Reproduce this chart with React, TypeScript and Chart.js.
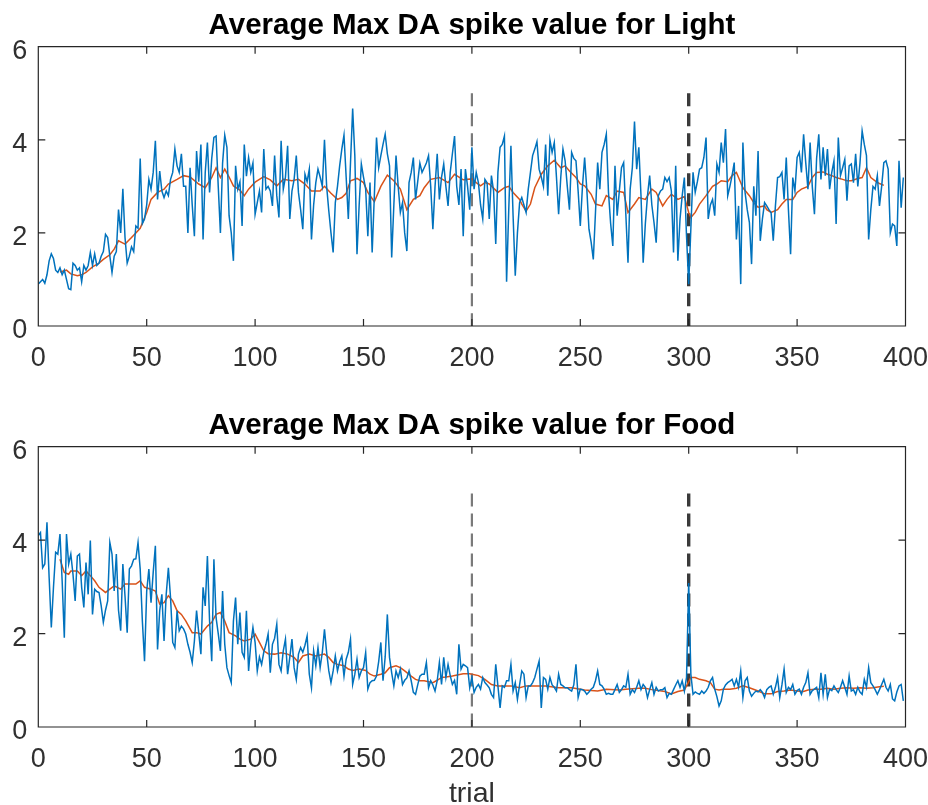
import React, { useEffect, useRef } from "react";
import { Chart, registerables } from "chart.js";

Chart.register(...registerables);

// ---------- data ----------
const X_TICKS = [0, 50, 100, 150, 200, 250, 300, 350, 400];
const Y_TICKS = [0, 2, 4, 6];
const MARKERS = [200, 300];

// blue: per-trial value, trial index 0..399
const lightSpikes = [
  0.9, 0.95, 1.0, 0.92, 1.1, 1.4, 1.55, 1.45, 1.2, 1.15,
  1.25, 1.1, 1.2, 1.0, 0.8, 0.78, 1.35, 1.3, 1.2, 1.25,
  0.95, 1.3, 1.2, 1.3, 1.58, 1.3, 1.55, 1.3, 1.35, 1.5,
  1.6, 1.97, 1.9, 1.5, 1.15, 1.5, 1.6, 2.5, 2.0, 2.95,
  1.9, 1.35, 1.5, 1.7, 1.6, 2.15, 2.1, 3.6, 2.2, 2.3,
  2.6, 3.15, 2.94, 3.3, 3.98, 2.72, 3.33, 2.9, 2.76, 2.9,
  2.8, 3.15, 3.3, 3.8, 3.44, 3.3, 3.7, 3.0, 3.0, 2.0,
  3.4, 2.6, 1.93, 3.76, 3.1, 3.9, 1.86, 3.3, 3.94, 2.87,
  3.6, 4.05, 4.08, 3.0, 2.0, 3.5, 4.1, 3.84, 2.37, 2.0,
  1.4, 3.44, 2.94, 3.1, 2.15, 3.9, 3.22, 3.62, 3.3, 3.5,
  2.4, 2.65, 2.9, 2.44, 3.8, 2.94, 3.0, 2.9, 2.58, 3.66,
  2.8, 2.33, 3.98, 2.94, 3.2, 3.87, 2.3, 2.9, 3.15, 3.66,
  2.87, 2.5, 2.08, 3.26, 3.1, 3.37, 1.86, 2.6, 3.08, 3.37,
  3.2, 3.0, 4.0, 3.0, 2.47, 2.0, 1.58, 2.65, 3.0, 3.44,
  3.8, 4.1, 3.2, 2.3, 3.5, 4.67, 3.66, 1.54, 2.6, 3.48,
  3.2, 2.94, 1.93, 3.08, 1.58, 2.8, 4.05, 3.4, 3.66, 3.9,
  4.12, 3.7, 3.44, 1.47, 2.6, 3.66, 3.0, 2.44, 2.65, 2.0,
  1.61, 3.08, 3.3, 3.62, 2.72, 3.1, 3.5, 3.3, 3.4, 3.5,
  3.66, 3.0, 2.08, 3.0, 3.7, 2.72, 3.2, 3.48, 3.0, 2.58,
  3.3, 3.7, 4.08, 3.0, 2.6, 3.37, 1.93, 3.37, 3.0, 2.5,
  3.84, 2.94, 3.3, 3.08, 2.6, 2.3, 3.15, 3.08, 2.3, 3.23,
  2.9, 1.76, 3.3, 3.84, 3.9, 4.08, 0.95, 2.5, 3.87, 2.37,
  1.08, 2.0, 2.65, 2.76, 2.6, 2.44, 2.94, 3.3, 3.66, 3.8,
  3.96, 3.37, 3.2, 3.0, 3.9, 2.8, 4.0, 3.73, 3.94, 3.2,
  2.4, 3.2, 3.8, 3.55, 3.0, 2.5, 3.73, 3.6, 3.55, 2.9,
  2.15, 3.0, 3.62, 2.94, 2.08, 1.8, 1.43, 2.44, 3.51, 2.94,
  3.73, 3.9, 4.12, 2.87, 2.2, 1.72, 3.44, 2.37, 2.9, 3.4,
  3.51, 2.4, 1.36, 2.94, 3.4, 4.39, 3.37, 3.84, 2.8, 1.36,
  2.2, 2.8, 3.23, 2.6, 2.22, 1.79, 2.8, 2.9, 2.94, 3.19,
  3.1, 3.19, 2.9, 1.58, 3.44, 1.4, 2.3, 2.8, 3.19, 1.93,
  0.9, 2.1, 3.3, 2.87, 3.1, 3.37, 3.4, 3.62, 4.05, 2.3,
  2.6, 2.72, 2.37, 3.48, 3.3, 3.94, 3.51, 4.23, 2.8, 3.0,
  3.23, 3.51, 1.86, 2.58, 0.9, 3.94, 2.87, 2.5, 2.22, 1.33,
  3.0, 2.37, 3.76, 1.83, 2.3, 2.65, 2.58, 2.5, 2.44, 1.83,
  2.58, 3.19, 3.21, 3.3, 2.72, 3.62, 2.5, 1.54, 3.19, 2.9,
  3.62, 3.73, 3.3, 4.12, 3.5, 2.94, 3.94, 3.0, 2.4, 3.6,
  4.12, 3.15, 3.84, 3.23, 3.8, 2.94, 3.3, 3.55, 2.19, 4.05,
  3.23, 3.4, 3.58, 2.69, 3.44, 3.48, 3.08, 3.7, 3.0, 3.5,
  4.19, 3.9, 3.66, 1.86, 2.5, 3.0, 2.94, 3.23, 2.58, 3.0,
  3.51, 3.55, 3.37, 2.0, 2.19, 2.15, 1.72, 3.55, 2.54, 3.19,
];

// orange: running average, sampled at these trials
const lightAvgX = [
  10, 13, 15, 18, 20, 22, 25, 28, 30, 33,
  35, 37, 40, 43, 45, 47, 50, 52, 55, 58,
  60, 64, 67, 70, 74, 77, 80, 82, 84, 86,
  88, 90, 93, 95, 97, 100, 104, 107, 110, 113,
  117, 120, 123, 126, 130, 132, 135, 138, 140, 142,
  144, 147, 150, 152, 155, 158, 161, 164, 167, 170,
  173, 176, 178, 181, 185, 189, 192, 196, 200, 202,
  204, 206, 208, 212, 215, 217, 219, 222, 223, 225,
  227, 229, 232, 235, 238, 241, 243, 245, 248, 250,
  252, 255, 257, 260, 262, 265, 267, 270, 272, 275,
  277, 280, 283, 285, 288, 290, 292, 295, 298, 300,
  301, 303, 305, 308, 311, 313, 315, 318, 320, 322,
  323, 325, 328, 330, 332, 335, 336, 338, 341, 343,
  345, 348, 350, 352, 355, 357, 359, 362, 364, 366,
  368, 371, 373, 375, 378, 380, 382, 384, 386, 388,
  390,
];
const lightAvgY = [
  1.16, 1.2, 1.12, 1.08, 1.1, 1.15, 1.27, 1.35, 1.43, 1.53,
  1.65, 1.83, 1.76, 1.9, 2.0, 2.1, 2.44, 2.72, 2.87, 2.94,
  3.05, 3.15, 3.23, 3.2, 3.05, 2.97, 3.19, 3.4, 3.19, 3.37,
  3.2, 3.01, 2.92, 2.8, 2.94, 3.09, 3.21, 3.14, 3.01, 3.15,
  3.12, 3.15, 3.05, 2.9, 2.9, 3.0, 2.85, 2.72, 2.76, 2.85,
  3.12, 3.17, 3.08, 2.87, 2.67, 3.0, 3.24, 3.12, 2.94, 2.5,
  2.72, 2.8, 2.97, 3.15, 3.19, 3.08, 3.26, 3.14, 3.16, 3.08,
  3.01, 3.08, 3.05, 2.87, 2.97, 3.0, 2.87, 2.72, 2.62, 2.47,
  2.62, 2.97, 3.26, 3.44, 3.56, 3.4, 3.44, 3.33, 3.19, 3.05,
  3.01, 2.83, 2.62, 2.58, 2.8, 2.72, 2.9, 2.87, 2.44, 2.62,
  2.76, 2.72, 2.94, 2.87, 2.58, 2.72, 2.83, 2.72, 2.78, 2.44,
  2.33, 2.44, 2.62, 2.8, 3.0, 3.05, 3.12, 3.1, 3.23, 3.3,
  3.19, 2.97, 2.8, 2.65, 2.55, 2.58, 2.5, 2.44, 2.5, 2.62,
  2.72, 2.72, 2.87, 2.94, 3.0, 3.19, 3.3, 3.31, 3.26, 3.23,
  3.19, 3.15, 3.12, 3.12, 3.17, 3.19, 3.4, 3.19, 3.12, 3.06,
  3.02,
];

const foodSpikes = [
  4.1, 4.16, 3.41, 3.49, 4.38, 3.2, 2.13, 2.99, 3.74, 3.7,
  4.13, 3.13, 1.91, 4.13, 3.49, 3.7, 3.27, 2.7, 3.66, 3.7,
  2.99, 2.56, 3.52, 2.84, 3.99, 2.41, 2.95, 2.9, 2.88, 2.6,
  2.24, 2.5, 2.7, 3.95, 3.7, 2.91, 3.7, 2.5, 2.06, 3.49,
  2.8, 2.02, 3.38, 3.45, 3.59, 3.6, 3.95, 3.38, 2.27, 1.41,
  2.91, 3.38, 2.66, 3.31, 3.88, 1.66, 2.49, 2.84, 1.84, 2.84,
  3.41, 2.77, 1.81, 1.7, 2.49, 2.06, 2.16, 2.1, 1.99, 1.77,
  1.6, 1.38, 1.84, 2.49, 2.02, 1.56, 2.99, 2.59, 3.66, 2.27,
  1.41, 3.59, 2.34, 2.0, 1.63, 2.91, 1.77, 1.27, 1.1, 0.95,
  2.27, 2.77, 1.77, 2.45, 1.6, 1.49, 2.49, 1.2, 1.77, 2.13,
  1.81, 1.2, 1.5, 1.34, 1.6, 1.77, 1.99, 1.16, 1.77, 1.9,
  2.2, 1.34, 1.2, 1.63, 1.88, 1.13, 1.49, 1.88, 1.27, 1.02,
  1.56, 1.7, 1.6, 1.75, 1.95, 1.13, 0.84, 1.63, 1.31, 1.7,
  1.27, 1.6, 2.09, 1.6, 1.2, 0.95, 1.2, 1.52, 1.2, 1.4,
  1.52, 1.09, 1.45, 1.6, 1.88, 0.91, 1.13, 1.45, 1.06, 1.2,
  1.27, 1.59, 0.81, 0.95, 0.99, 1.0, 1.09, 1.4, 1.81, 0.99,
  1.5, 2.41, 1.49, 1.16, 0.88, 1.2, 1.06, 1.24, 0.91, 1.0,
  1.05, 1.2, 0.99, 0.74, 0.7, 0.9, 1.09, 1.13, 1.13, 1.38,
  0.84, 0.99, 0.9, 0.77, 0.99, 1.38, 0.91, 1.49, 1.06, 1.34,
  1.1, 0.91, 1.0, 0.7, 1.77, 1.24, 1.34, 1.31, 1.27, 0.84,
  1.06, 0.74, 0.85, 0.91, 0.81, 1.06, 0.95, 0.9, 0.84, 0.7,
  0.63, 1.34, 0.88, 0.41, 0.88, 0.85, 0.99, 0.99, 1.34, 0.77,
  0.95, 0.59, 0.9, 1.2, 1.13, 0.63, 0.88, 0.88, 0.95, 1.06,
  1.24, 1.41, 0.41, 1.06, 1.02, 0.81, 1.06, 0.9, 0.85, 0.77,
  1.13, 0.91, 0.88, 0.84, 0.84, 0.8, 0.77, 0.9, 1.34, 0.63,
  0.81, 0.8, 0.77, 0.7, 0.75, 0.81, 0.85, 0.99, 1.2, 0.91,
  0.88, 0.81, 0.7, 0.72, 0.7, 0.7, 0.8, 0.91, 0.74, 0.8,
  0.88, 0.85, 1.13, 0.7, 0.8, 0.74, 0.85, 0.99, 0.8, 0.91,
  0.85, 0.63, 0.8, 0.95, 0.7, 0.85, 0.77, 0.8, 0.8, 0.84,
  0.63, 0.72, 0.7, 0.8, 0.9, 0.99, 0.85, 0.99, 0.77, 1.06,
  3.08, 1.13, 0.7, 0.75, 0.72, 0.7, 0.77, 0.72, 0.77, 0.85,
  0.99, 1.06, 0.81, 0.65, 0.45, 0.56, 0.81, 0.9, 0.95, 0.98,
  1.02, 0.88, 1.02, 0.85, 1.2, 0.63, 0.99, 1.06, 0.77, 0.66,
  0.72, 0.77, 0.75, 0.8, 0.74, 0.63, 0.8, 0.85, 0.88, 0.7,
  0.85, 1.06, 0.63, 0.9, 1.24, 0.74, 0.85, 0.8, 0.91, 0.7,
  0.78, 0.81, 0.7, 0.85, 0.95, 1.16, 0.7, 0.78, 0.81, 0.85,
  0.63, 1.16, 0.7, 1.13, 0.63, 0.81, 0.78, 0.88, 0.8, 0.74,
  0.85, 0.99, 0.85, 0.7, 1.09, 0.77, 0.8, 0.7, 0.85, 0.75,
  0.7, 1.02, 0.85, 1.27, 0.95, 0.88, 0.8, 0.7, 0.8, 0.91,
  1.02, 0.85, 0.77, 0.91, 0.6, 0.56, 0.75, 0.88, 0.91, 0.56,
];

const foodAvgX = [
  10, 12, 14, 15, 18, 20, 22, 24, 26, 28,
  31, 33, 35, 38, 40, 42, 45, 47, 49, 52,
  54, 56, 58, 60, 62, 64, 66, 68, 71, 73,
  75, 78, 80, 82, 84, 86, 88, 91, 93, 95,
  98, 100, 102, 104, 106, 109, 112, 115, 118, 120,
  122, 125, 128, 132, 134, 136, 138, 141, 143, 145,
  148, 151, 153, 155, 158, 160, 162, 165, 167, 169,
  172, 174, 176, 178, 182, 184, 186, 188, 191, 196,
  199, 203, 206, 209, 212, 218, 222, 225, 228, 234,
  240, 246, 252, 258, 262, 268, 271, 277, 280, 283,
  289, 292, 295, 298, 299, 301, 303, 305, 308, 310,
  312, 314, 316, 319, 322, 325, 328, 332, 335, 338,
  341, 344, 347, 350, 353, 355, 358, 361, 364, 367,
  370, 373, 376, 379, 382, 385, 388, 390,
];
const foodAvgY = [
  3.59, 3.31, 3.27, 3.34, 3.34, 3.24, 3.34, 3.24, 3.13, 2.99,
  2.88, 2.95, 3.02, 2.95, 3.06, 3.06, 3.06, 3.13, 2.99, 2.95,
  2.91, 2.63, 2.66, 2.81, 2.7, 2.49, 2.41, 2.27, 2.02, 2.02,
  1.99, 2.16, 2.24, 2.41, 2.45, 2.27, 2.02, 1.95, 1.88, 1.84,
  1.88, 1.99, 1.81, 1.63, 1.57, 1.56, 1.59, 1.56, 1.49, 1.38,
  1.52, 1.56, 1.52, 1.56, 1.49, 1.38, 1.34, 1.31, 1.24, 1.21,
  1.24, 1.21, 1.13, 1.09, 1.13, 1.16, 1.27, 1.31, 1.27, 1.2,
  1.09, 1.02, 0.99, 0.99, 0.95, 1.0, 1.06, 1.07, 1.09, 1.14,
  1.14, 1.1, 1.02, 0.91, 0.88, 0.88, 0.84, 0.88, 0.88, 0.88,
  0.84, 0.84, 0.79, 0.77, 0.81, 0.79, 0.81, 0.83, 0.83, 0.8,
  0.76, 0.71, 0.76, 0.79, 0.88, 1.06, 1.06, 1.02, 0.99, 0.95,
  0.81, 0.79, 0.81, 0.81, 0.83, 0.88, 0.84, 0.77, 0.71, 0.71,
  0.76, 0.77, 0.79, 0.77, 0.76, 0.79, 0.81, 0.81, 0.83, 0.81,
  0.83, 0.84, 0.83, 0.84, 0.83, 0.84, 0.86, 0.87,
];

// ---------- styling ----------
const BLUE = "#0072BD";
const ORANGE = "#D95319";
const AXIS = "#262626";
const TICK_TEXT = "#303030";
const FONT = '"Liberation Sans", Arial, Helvetica, sans-serif';
const WIDTH = 928;

function framePlugin(title: string, xlabel: string | null) {
  return {
    id: "matlabFrame",
    afterDraw(chart: any) {
      const { ctx, chartArea: a, scales } = chart;
      const x = scales.x;
      const y = scales.y;
      ctx.save();
      ctx.strokeStyle = AXIS;
      ctx.lineWidth = 1.2;
      ctx.beginPath();
      ctx.rect(a.left, a.top, a.right - a.left, a.bottom - a.top);
      for (const v of X_TICKS) {
        const px = x.getPixelForValue(v);
        ctx.moveTo(px, a.bottom);
        ctx.lineTo(px, a.bottom - 7);
        ctx.moveTo(px, a.top);
        ctx.lineTo(px, a.top + 7);
      }
      for (const v of Y_TICKS) {
        const py = y.getPixelForValue(v);
        ctx.moveTo(a.left, py);
        ctx.lineTo(a.left + 7, py);
        ctx.moveTo(a.right, py);
        ctx.lineTo(a.right - 7, py);
      }
      ctx.stroke();

      ctx.fillStyle = TICK_TEXT;
      ctx.font = `27px ${FONT}`;
      ctx.textBaseline = "alphabetic";
      ctx.textAlign = "center";
      for (const v of X_TICKS) {
        ctx.fillText(String(v), x.getPixelForValue(v), a.bottom + 40);
      }
      ctx.textAlign = "right";
      for (const v of Y_TICKS) {
        ctx.fillText(String(v), a.left - 11, y.getPixelForValue(v) + 12);
      }

      ctx.fillStyle = "#000000";
      ctx.font = `bold 29.5px ${FONT}`;
      ctx.textAlign = "center";
      ctx.fillText(title, (a.left + a.right) / 2, a.top - 12.5);

      if (xlabel) {
        ctx.fillStyle = TICK_TEXT;
        ctx.font = `28.5px ${FONT}`;
        ctx.fillText(xlabel, (a.left + a.right) / 2, a.bottom + 75);
      }
      ctx.restore();
    },
  };
}

type PanelProps = {
  top: number;
  height: number;
  plotTop: number;
  plotBottom: number;
  title: string;
  xlabel: string | null;
  spikes: number[];
  avgX: number[];
  avgY: number[];
};

function Panel(p: PanelProps) {
  const ref = useRef<HTMLCanvasElement | null>(null);
  useEffect(() => {
    if (!ref.current) return;
    const markerSets = MARKERS.map((m, i) => ({
      data: [
        { x: m, y: 5 },
        { x: m, y: 0 },
      ],
      showLine: true,
      borderColor: i === 0 ? "#7a7a7a" : "#3a3a3a",
      borderWidth: i === 0 ? 2.2 : 3.4,
      borderDash: [13, 7],
      pointRadius: 0,
    }));
    const chart = new Chart(ref.current, {
      type: "scatter",
      data: {
        datasets: [
          {
            data: p.spikes.map((v, i) => ({ x: i, y: v })),
            showLine: true,
            borderColor: BLUE,
            borderWidth: 1.5,
            pointRadius: 0,
          },
          {
            data: p.avgX.map((xv, i) => ({ x: xv, y: p.avgY[i] })),
            showLine: true,
            borderColor: ORANGE,
            borderWidth: 1.5,
            pointRadius: 0,
          },
          ...markerSets,
        ],
      },
      options: {
        animation: false,
        responsive: false,
        devicePixelRatio: 1,
        events: [],
        layout: {
          padding: {
            left: 38.3,
            right: WIDTH - 905.5,
            top: p.plotTop,
            bottom: p.height - p.plotBottom,
          },
        },
        plugins: {
          legend: { display: false },
          title: { display: false },
          tooltip: { enabled: false },
        },
        scales: {
          x: { type: "linear", min: 0, max: 400, display: false },
          y: { type: "linear", min: 0, max: 6, display: false },
        },
      },
      plugins: [framePlugin(p.title, p.xlabel)],
    } as any);
    return () => chart.destroy();
  }, []);
  return (
    <canvas
      ref={ref}
      width={WIDTH}
      height={p.height}
      style={{ position: "absolute", left: 0, top: p.top, display: "block" }}
    />
  );
}

export default function App() {
  return (
    <div
      style={{
        position: "absolute",
        left: 0,
        top: 0,
        width: WIDTH,
        height: 805,
        background: "#ffffff",
        overflow: "hidden",
      }}
    >
      <Panel
        top={0}
        height={400}
        plotTop={46.7}
        plotBottom={326}
        title="Average Max DA spike value for Light"
        xlabel={null}
        spikes={lightSpikes}
        avgX={lightAvgX}
        avgY={lightAvgY}
      />
      <Panel
        top={400}
        height={405}
        plotTop={46.7}
        plotBottom={327}
        title="Average Max DA spike value for Food"
        xlabel="trial"
        spikes={foodSpikes}
        avgX={foodAvgX}
        avgY={foodAvgY}
      />
    </div>
  );
}
